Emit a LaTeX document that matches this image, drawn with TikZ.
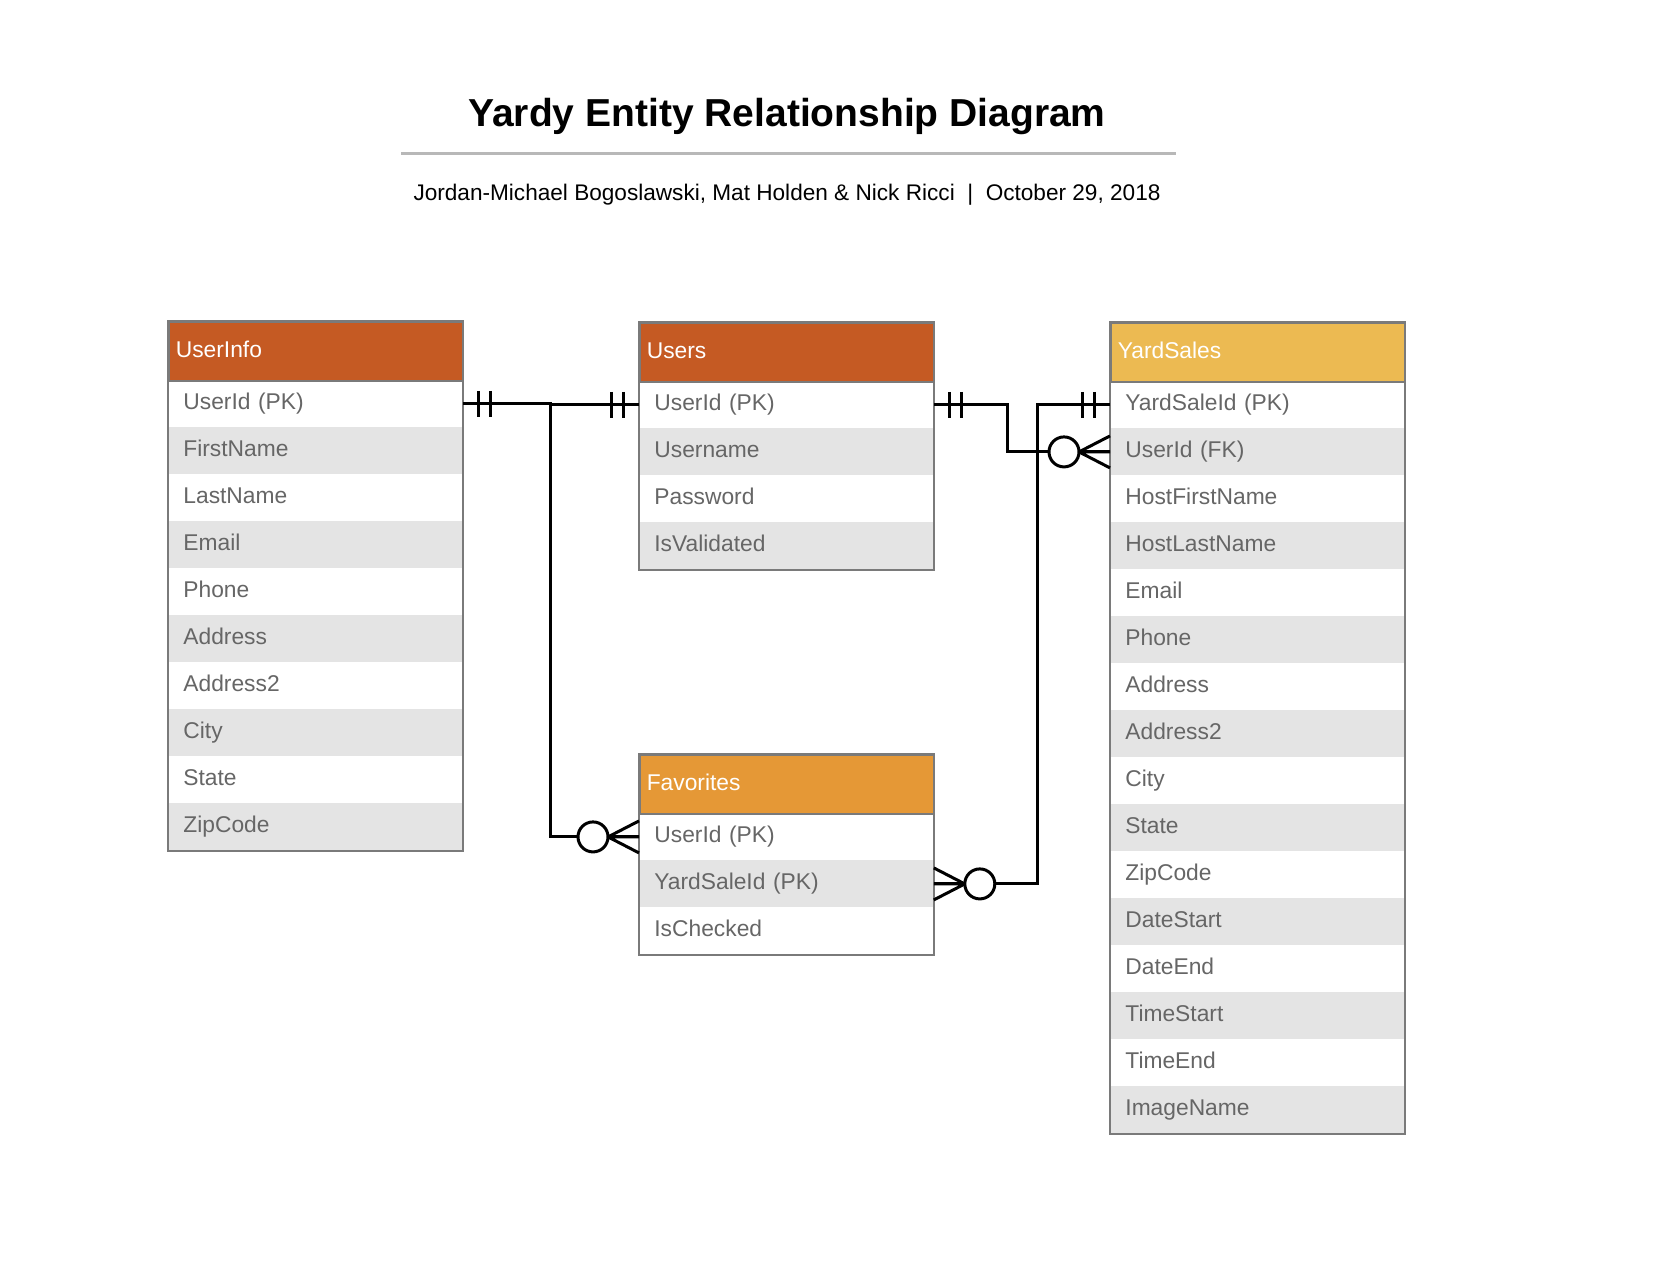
\documentclass[tikz,border=0pt]{standalone}
\usepackage{fontspec}
\setmainfont{Liberation Sans}
\usetikzlibrary{calc}
\definecolor{rust}{HTML}{C55A23}
\definecolor{sand}{HTML}{ECBA52}
\definecolor{amber}{HTML}{E59836}
\definecolor{rowgray}{HTML}{E4E4E4}
\definecolor{fieldtext}{HTML}{666666}
\definecolor{edgegray}{HTML}{7A7A7A}
\tikzset{
  headbox/.style={anchor=north west, draw=edgegray, line width=0.8pt, text=white,
    minimum height=29.5pt, text width=140pt, inner xsep=3.5pt, align=left,
    text height=8.4pt, text depth=2.4pt, font=\fontsize{11.4}{13}\selectfont},
  rowbox/.style={anchor=north west, draw=none, text=fieldtext,
    minimum height=23.5pt, text width=132pt, inner xsep=7.5pt, align=left,
    text height=8.4pt, text depth=2.4pt, font=\fontsize{11.4}{13}\selectfont},
  rel/.style={line width=1.5pt, black},
}
\newcommand{\entityhead}[5]{\node[headbox, fill=#4] (#1) at ( #2 , #3 ) {#5};}
\newcommand{\entityrow}[5]{\node[rowbox, fill=#4] (#1) at ( #2 , #3 ) {#5};}
\newcommand{\entityframe}[2]{\draw[edgegray, line width=0.8pt] (#1.north west) rectangle (#2.south east);}
\newcommand{\mandone}[2]{\draw[rel] ($(#1)+(#2*16,-13)$) -- ++(0,26); \draw[rel] ($(#1)+(#2*28,-13)$) -- ++(0,26);}
\newcommand{\zeromany}[2]{\draw[rel] ($(#1)+(0,-16)$) -- ($(#1)+(#2*31,0)$) -- ($(#1)+(0,16)$) (#1) -- ($(#1)+(#2*31,0)$);
  \draw[rel, fill=white] ($(#1)+(#2*46,0)$) circle (7.5pt);}

\begin{document}
\begin{tikzpicture}[x=0.5pt, y=-0.5pt]
\useasboundingbox (0,0) rectangle (1664,1287);
% title block
\node[font=\fontsize{19.5}{23}\selectfont\bfseries] (title) at (787,116) {Yardy Entity Relationship Diagram};
\draw[line width=1.5pt, black!28] (401,153) -- (1176,153);
\node[font=\fontsize{11.3}{13}\selectfont] (byline) at (787,195) {Jordan-Michael Bogoslawski, Mat Holden \& Nick Ricci~~|~~October 29, 2018};
% UserInfo table
\entityrow{ui1}{168}{380}{white}{UserId (PK)}
\entityrow{ui2}{168}{427}{rowgray}{FirstName}
\entityrow{ui3}{168}{474}{white}{LastName}
\entityrow{ui4}{168}{521}{rowgray}{Email}
\entityrow{ui5}{168}{568}{white}{Phone}
\entityrow{ui6}{168}{615}{rowgray}{Address}
\entityrow{ui7}{168}{662}{white}{Address2}
\entityrow{ui8}{168}{709}{rowgray}{City}
\entityrow{ui9}{168}{756}{white}{State}
\entityrow{ui10}{168}{803}{rowgray}{ZipCode}
\entityhead{ui0}{168}{321}{rust}{UserInfo}
\entityframe{ui0}{ui10}
% Users table
\entityrow{us1}{639}{381}{white}{UserId (PK)}
\entityrow{us2}{639}{428}{rowgray}{Username}
\entityrow{us3}{639}{475}{white}{Password}
\entityrow{us4}{639}{522}{rowgray}{IsValidated}
\entityhead{us0}{639}{322}{rust}{Users}
\entityframe{us0}{us4}
% YardSales table
\entityrow{ys1}{1110}{381}{white}{YardSaleId (PK)}
\entityrow{ys2}{1110}{428}{rowgray}{UserId (FK)}
\entityrow{ys3}{1110}{475}{white}{HostFirstName}
\entityrow{ys4}{1110}{522}{rowgray}{HostLastName}
\entityrow{ys5}{1110}{569}{white}{Email}
\entityrow{ys6}{1110}{616}{rowgray}{Phone}
\entityrow{ys7}{1110}{663}{white}{Address}
\entityrow{ys8}{1110}{710}{rowgray}{Address2}
\entityrow{ys9}{1110}{757}{white}{City}
\entityrow{ys10}{1110}{804}{rowgray}{State}
\entityrow{ys11}{1110}{851}{white}{ZipCode}
\entityrow{ys12}{1110}{898}{rowgray}{DateStart}
\entityrow{ys13}{1110}{945}{white}{DateEnd}
\entityrow{ys14}{1110}{992}{rowgray}{TimeStart}
\entityrow{ys15}{1110}{1039}{white}{TimeEnd}
\entityrow{ys16}{1110}{1086}{rowgray}{ImageName}
\entityhead{ys0}{1110}{322}{sand}{YardSales}
\entityframe{ys0}{ys16}
% Favorites table
\entityrow{fv1}{639}{813}{white}{UserId (PK)}
\entityrow{fv2}{639}{860}{rowgray}{YardSaleId (PK)}
\entityrow{fv3}{639}{907}{white}{IsChecked}
\entityhead{fv0}{639}{754}{amber}{Favorites}
\entityframe{fv0}{fv3}
% junction points
\coordinate (jl) at (550,404);
\coordinate (jr) at (1007,404);
\coordinate (jf) at (1037,404);
% UserInfo to Users and Favorites
\draw[rel] (ui1.east) -- (ui1.east -| jl) |- (us1.west);
\draw[rel] (ui1.east -| jl) |- (fv1.west);
\mandone{ui1.east}{1}
\mandone{us1.west}{-1}
\zeromany{fv1.west}{-1}
% Users to YardSales
\draw[rel] (us1.east) -- (us1.east -| jr) |- (ys2.west);
\mandone{us1.east}{1}
\zeromany{ys2.west}{-1}
% YardSales to Favorites
\draw[rel] (ys1.west) -- (ys1.west -| jf) |- (fv2.east);
\mandone{ys1.west}{-1}
\zeromany{fv2.east}{1}
\end{tikzpicture}
\end{document}
